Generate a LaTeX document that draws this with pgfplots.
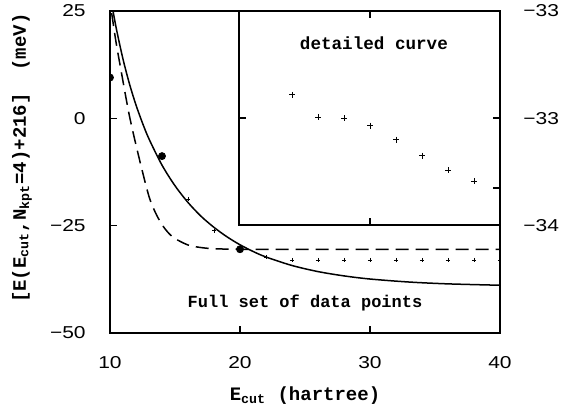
\documentclass[border=0pt]{standalone}
\usepackage{fontspec}
\setmainfont{Liberation Mono}
\newfontfamily\tickfont[FakeStretch=1.22]{Liberation Sans}
\usepackage{pgfplots}
\pgfplotsset{compat=1.18}
\begin{document}
\begin{tikzpicture}
\useasboundingbox (-55pt,-38.5pt) rectangle (230pt,166.5pt);
\begin{axis}[name=main, at={(0pt,0pt)}, anchor=south west, scale only axis,
  width=195pt, height=161pt, clip marker paths=true,
  xmin=10, xmax=40, ymin=-50, ymax=25,
  xtick={10,20,30,40}, xticklabels={10,20,30,40},
  ytick={-50,-25,0,25}, yticklabels={−50,−25,0,25},
  tick pos=left, tick align=inside, major tick length=3.5pt,
  axis line style={line width=1pt},
  every tick/.style={line width=0.8pt, black},
  ticklabel style={font=\tickfont\fontsize{8.6}{10}\selectfont},
  xticklabel style={anchor=center, yshift=-15pt},
  yticklabel style={anchor=east, inner sep=0pt, xshift=-12pt},
  xlabel={E\textsubscript{cut}~(hartree)},
  xlabel style={at={(axis description cs:0.5,-0.1957)}, anchor=center, font=\bfseries\fontsize{9.5}{11}\selectfont},
  ylabel={[E(E\textsubscript{cut},N\textsubscript{kpt}=4)+216]~~(meV)},
  ylabel style={at={(axis description cs:-0.2256,0.543)}, anchor=center, font=\bfseries\fontsize{9.5}{11}\selectfont},
]
\addplot[line width=0.75pt, smooth] coordinates {
(10.15,26.4)(10.5,20.7)(11,13.8)(11.5,8.0)(12,3.1)(12.5,-1.1)(13,-4.8)(14,-10.9)(15,-15.7)(16,-19.6)(17,-22.8)(18,-25.4)(19,-27.6)(20,-29.45)(21,-31.0)(22,-32.3)(24,-34.28)(26,-35.7)(28,-36.7)(30,-37.43)(33,-38.13)(36,-38.56)(40,-38.88)};
\addplot[line width=0.75pt, smooth, dash pattern=on 6.5pt off 3.5pt] coordinates {
(10.13,24.5)(10.45,18)(10.8,12)(11.5,0.5)(12.3,-10)(13,-18.2)(13.5,-22.0)(14,-24.75)(14.5,-26.7)(15,-28.0)(16,-29.5)(17,-30.1)(18,-30.37)(20,-30.5)(25,-30.5)(40,-30.5)};
\addplot[only marks, mark=*, mark size=1.75pt] coordinates {(10,9.5)(14,-8.8)(20,-30.5)};
\addplot[only marks, mark=+, mark size=1.1pt, mark options={line width=0.4pt}] coordinates {
(16,-18.8)(18,-26.2)(20,-30.6)(22,-32.3)(24,-33)(26,-33)(28,-33)(30,-33)(32,-33)(34,-33)(36,-33)(38,-33)(40,-33)};
\node[font=\bfseries\fontsize{8.5}{10}\selectfont] at (axis cs:25,-43) {Full set of data points};
\end{axis}
\begin{axis}[at={(64.5pt,53.75pt)}, anchor=south west, scale only axis,
  width=130.5pt, height=107.25pt,
  xmin=19.92, xmax=40, ymin=-33.5, ymax=-32.5,
  xtick={30}, xticklabels={},
  ytick={-32.5,-33,-33.5}, yticklabels={−33,−33,−34},
  yticklabel pos=right, xtick pos=both, ytick pos=both,
  extra y ticks={-33.326}, extra y tick labels={},
  extra y tick style={ytick pos=right},
  tick align=inside, major tick length=3.5pt,
  axis line style={line width=1pt},
  every tick/.style={line width=0.8pt, black},
  ticklabel style={font=\tickfont\fontsize{8.6}{10}\selectfont},
  yticklabel style={anchor=west, inner sep=0pt, xshift=11.5pt},
]
\addplot[only marks, mark=+, mark size=1.5pt, mark options={line width=0.4pt}] coordinates {
(24,-32.891)(26,-32.994)(28,-33.0)(30,-33.034)(32,-33.1)(34,-33.174)(36,-33.243)(38,-33.294)};
\node[font=\bfseries\fontsize{8.8}{10}\selectfont] at (axis cs:30.3,-32.649) {detailed curve};
\end{axis}
\end{tikzpicture}
\end{document}
